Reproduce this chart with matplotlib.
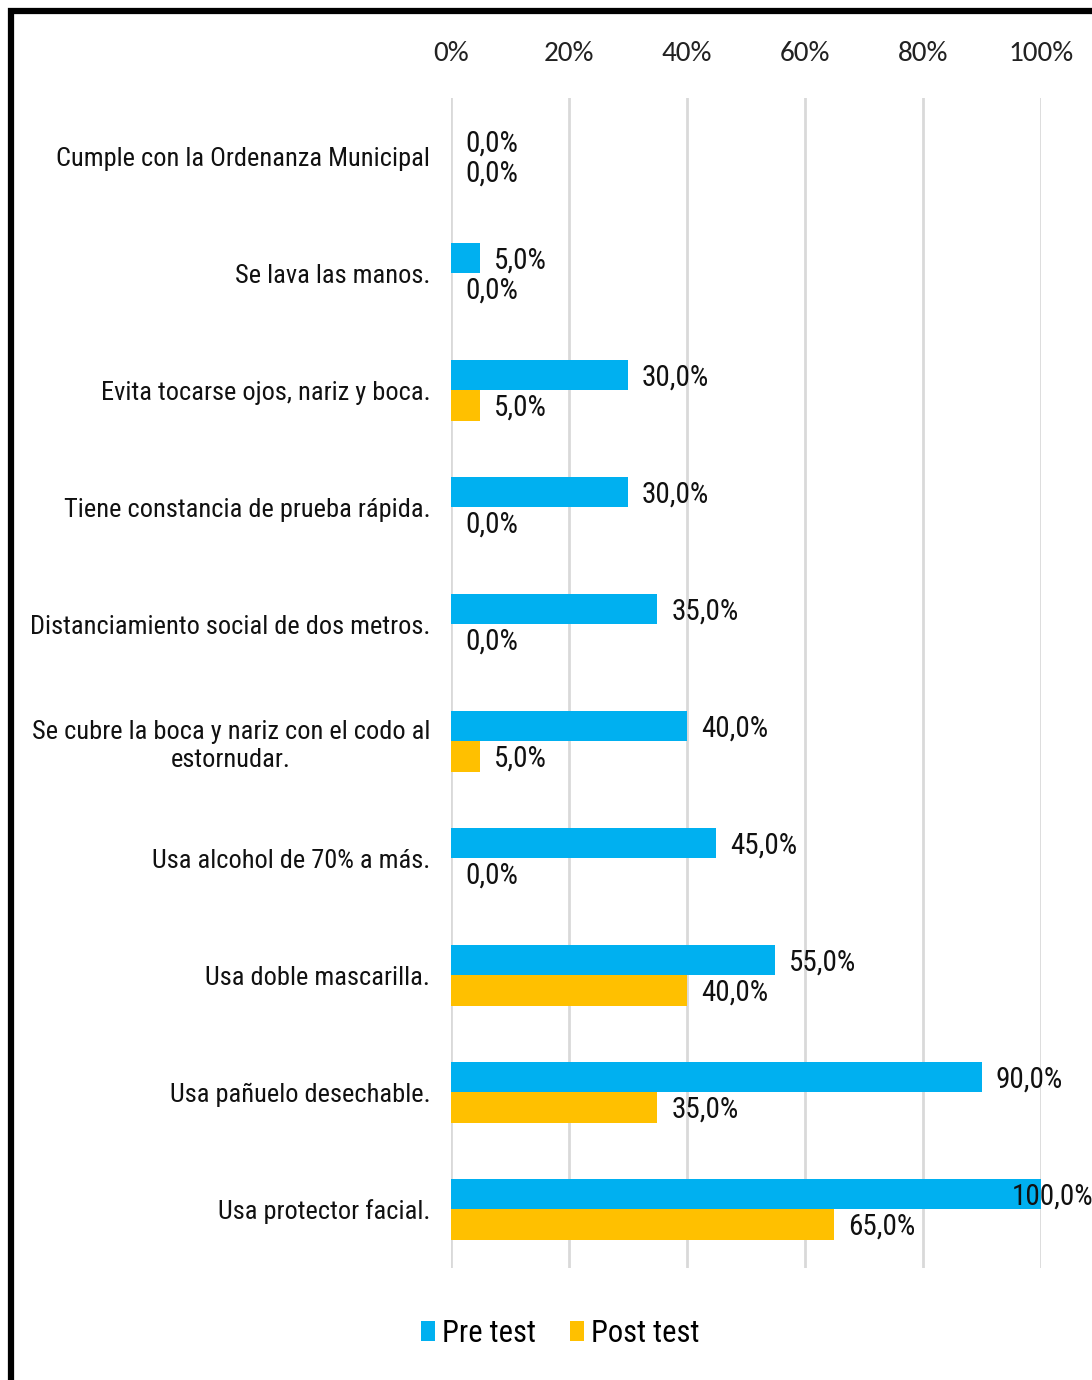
import matplotlib
matplotlib.use("Agg")
import matplotlib.pyplot as plt
import numpy as np
from matplotlib.patches import Rectangle

# data
categories = [
    "Cumple con la Ordenanza Municipal",
    "Se lava las manos.",
    "Evita tocarse ojos, nariz y boca.",
    "Tiene constancia de prueba rápida.",
    "Distanciamiento social de dos metros.",
    "Se cubre la boca y nariz con el codo al\nestornudar.",
    "Usa alcohol de 70% a más.",
    "Usa doble mascarilla.",
    "Usa pañuelo desechable.",
    "Usa protector facial.",
]
pre_test = [0, 5, 30, 30, 35, 40, 45, 55, 90, 100]
post_test = [0, 0, 5, 0, 0, 5, 0, 40, 35, 65]
series_names = ["Pre test", "Post test"]
colors = ["#00B0F0", "#FFC000"]

narrow = ["Roboto Condensed", "DejaVu Sans"]
calibri = ["Carlito", "DejaVu Sans"]

fig = plt.figure(figsize=(10.92, 13.8), dpi=100)
ax = fig.add_axes([0.413, 0.0812, 0.540, 0.8478])

y = np.arange(len(categories))
h = 0.26
b1 = ax.barh(y - h / 2, pre_test, height=h, color=colors[0], label=series_names[0], zorder=3)
b2 = ax.barh(y + h / 2, post_test, height=h, color=colors[1], label=series_names[1], zorder=3)

def fmt(v):
    return f"{v:.1f}%".replace(".", ",")

for bars, vals in [(b1, pre_test), (b2, post_test)]:
    for rect, v in zip(bars, vals):
        cy = rect.get_y() + rect.get_height() / 2
        dx = 10 if v < 100 else -21
        ax.annotate(fmt(v), (v, cy), xytext=(dx, -1.5), textcoords="offset points",
                    ha="left", va="center", fontsize=21, family=narrow, zorder=4,
                    color="#111111")

ax.set_xlim(0, 100)
ax.set_ylim(len(categories) - 0.5, -0.5)
ax.set_yticks(y)
ax.set_yticklabels(categories, fontsize=19, family=narrow, multialignment="center",
                   color="#111111")
ax.set_xticks(np.arange(0, 101, 20))
ax.set_xticklabels([f"{t}%" for t in range(0, 101, 20)], fontsize=21, family=calibri)
ax.xaxis.tick_top()
ax.tick_params(axis="x", length=0, pad=23, colors="#222222")
ax.tick_params(axis="y", length=0, pad=15)
ax.grid(axis="x", color="#d9d9d9", linewidth=2, zorder=0)
for s in ax.spines.values():
    s.set_visible(False)

fig.legend(loc="center", bbox_to_anchor=(0.513, 0.034), ncol=2, frameon=False,
           prop={"family": narrow, "size": 22}, handlelength=0.45, handleheight=0.6,
           handletextpad=0.25, columnspacing=1.1)

# black frame on top and left
fig.patches.append(Rectangle((0.0101, -0.1), 1.5, 1.1 - 0.0101 * 1092 / 1380,
                             transform=fig.transFigure, fill=False, edgecolor="black",
                             linewidth=4.5))

fig.savefig("out.png", dpi=100, facecolor="white")
